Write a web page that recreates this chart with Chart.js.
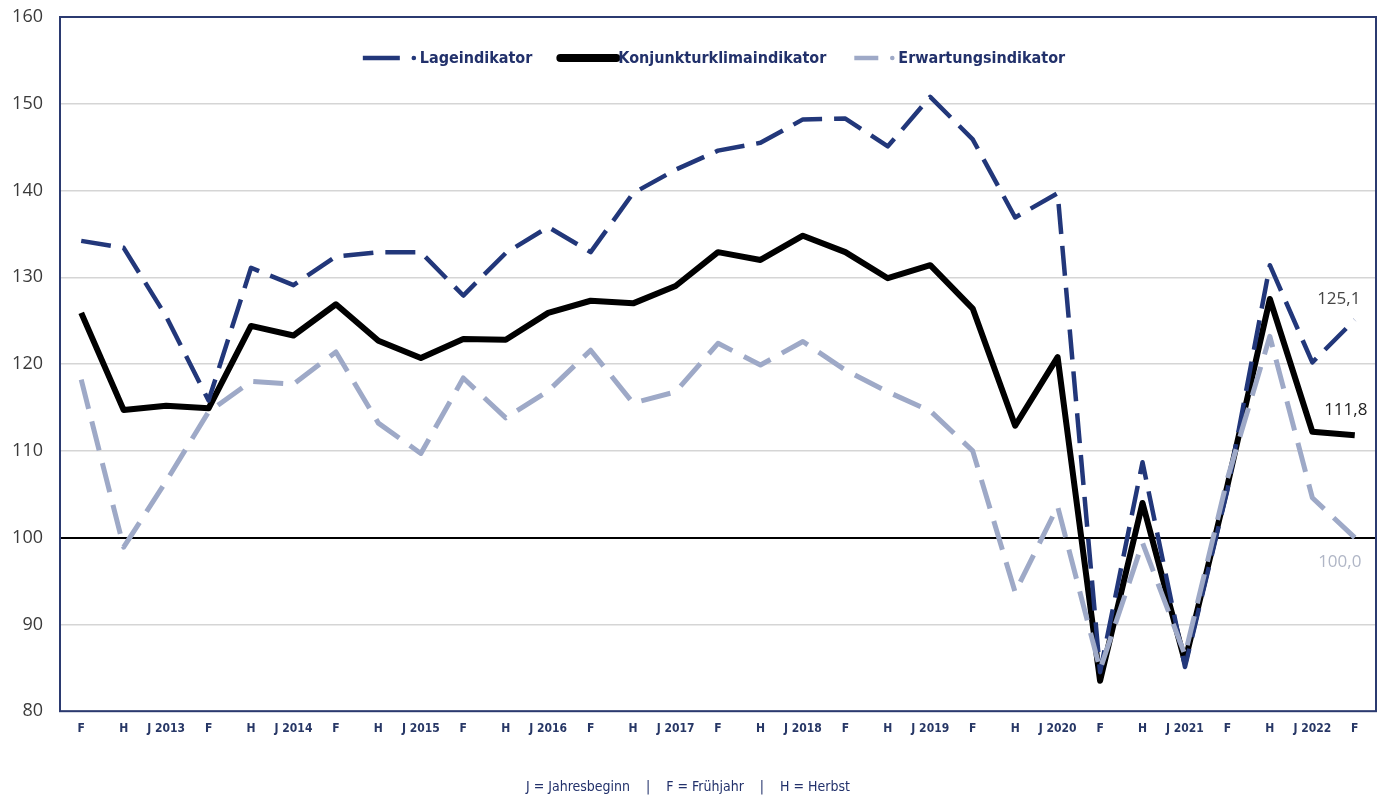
<!DOCTYPE html>
<html lang="de">
<head>
<meta charset="utf-8">
<title>Konjunkturklima</title>
<script src="https://cdn.jsdelivr.net/npm/chart.js@4.4.1/dist/chart.umd.min.js"></script>
<style>
    html, body { margin: 0; padding: 0; background: #fff; }
    .chart-wrap { position: relative; width: 1386px; height: 802px; }
</style>
</head>
<body>
<div class="chart-wrap"><canvas id="klimaChart"></canvas></div>
<script>
const periodLabels = [
    "F", "H", "J 2013", "F", "H", "J 2014", "F", "H", "J 2015", "F", "H", "J 2016",
    "F", "H", "J 2017", "F", "H", "J 2018", "F", "H", "J 2019", "F", "H", "J 2020",
    "F", "H", "J 2021", "F", "H", "J 2022", "F"
];

const lageValues = [
    134.2, 133.4, 125.5, 115.8, 131.1, 129.1, 132.4, 132.9, 132.9, 127.9, 132.8,
    135.8, 132.9, 139.7, 142.4, 144.6, 145.5, 148.2, 148.3, 145.1, 150.8, 145.9,
    136.9, 139.7, 84.5, 108.7, 85.1, 105.5, 131.4, 120.2, 125.1
];

const klimaValues = [
    125.9, 114.7, 115.2, 114.9, 124.4, 123.3, 126.9, 122.7, 120.7, 122.9, 122.8,
    125.9, 127.3, 127.0, 129.0, 132.9, 132.0, 134.8, 132.9, 129.9, 131.4, 126.4,
    112.9, 120.8, 83.5, 104.0, 85.7, 106.0, 127.5, 112.2, 111.8
];

const erwartungValues = [
    118.2, 98.9, 106.5, 114.5, 118.0, 117.7, 121.4, 113.2, 109.7, 118.4, 113.8,
    116.9, 121.6, 115.5, 116.8, 122.4, 119.9, 122.6, 119.3, 116.8, 114.6, 110.0,
    93.7, 103.6, 84.8, 99.4, 86.5, 106.8, 123.2, 104.6, 100.0
];

const seriesNames = ["Lageindikator", "Konjunkturklimaindikator", "Erwartungsindikator"];
const yRange = { min: 80, max: 160, step: 10 };
const baseLine = 100;
const footnote = "J = Jahresbeginn    |    F = Frühjahr    |    H = Herbst";

const navy = "#22377a";
const paleBlue = "#9ea9c7";
const legendInk = "#22316b";
const condensed = "'DejaVu Sans Condensed', 'DejaVu Sans', sans-serif";

// frame round the plot area
const framePlugin = {
    id: "plotFrame",
    afterDatasetsDraw(chart) {
        const { ctx, chartArea } = chart;
        ctx.save();
        ctx.strokeStyle = "#2b3a70";
        ctx.lineWidth = 2;
        ctx.strokeRect(chartArea.left, chartArea.top, chartArea.right - chartArea.left, chartArea.bottom - chartArea.top);
        ctx.restore();
    }
};

// legend sits inside the plot, near the top
const insideLegend = {
    id: "insideLegend",
    afterDatasetsDraw(chart) {
        const { ctx, chartArea } = chart;
        const gap = 28;
        const y = chartArea.top + 41;

        ctx.save();
        ctx.font = "bold 16px " + condensed;
        const items = chart.data.datasets.map((ds) => {
            const textWidth = ctx.measureText(ds.label).width;
            const lead = ds.legendDot ? ds.legendSample + 20 : ds.legendSample + 2;
            return { ds, textWidth, lead, width: lead + textWidth };
        });
        const total = items.reduce((sum, item) => sum + item.width, 0) + gap * (items.length - 1);
        let x = (chartArea.left + chartArea.right) / 2 - total / 2 - 4;

        items.forEach(({ ds, textWidth, lead }) => {
            ctx.beginPath();
            ctx.setLineDash([]);
            ctx.lineCap = ds.legendWeight > 6 ? "round" : "butt";
            ctx.strokeStyle = ds.borderColor;
            ctx.lineWidth = ds.legendWeight;
            ctx.moveTo(x, y);
            ctx.lineTo(x + ds.legendSample, y);
            ctx.stroke();

            if (ds.legendDot) {
                ctx.beginPath();
                ctx.fillStyle = ds.borderColor;
                ctx.arc(x + ds.legendSample + 14, y, 2.3, 0, Math.PI * 2);
                ctx.fill();
            }

            ctx.fillStyle = legendInk;
            ctx.textBaseline = "middle";
            ctx.textAlign = "left";
            ctx.fillText(ds.label, x + lead, y + 1);
            x += lead + textWidth + gap;
        });
        ctx.restore();
    }
};

// latest value written beside the last point of each line
const endLabels = {
    id: "endLabels",
    afterDatasetsDraw(chart) {
        const { ctx } = chart;
        ctx.save();
        ctx.font = "17px 'Open Sans', sans-serif";
        ctx.textAlign = "center";
        ctx.textBaseline = "middle";
        chart.data.datasets.forEach((ds, i) => {
            const meta = chart.getDatasetMeta(i);
            const last = meta.data[meta.data.length - 1];
            const value = ds.data[ds.data.length - 1];
            const text = value.toLocaleString("de-DE", { minimumFractionDigits: 1, maximumFractionDigits: 1 });
            ctx.fillStyle = ds.endLabelColor;
            ctx.fillText(text, last.x + ds.endLabelOffset[0], last.y + ds.endLabelOffset[1]);
        });
        ctx.restore();
    }
};

function lineDataset(label, data, color, width, dash, extra) {
    return Object.assign({
        label,
        data,
        borderColor: color,
        backgroundColor: color,
        borderWidth: width,
        borderDash: dash,
        borderCapStyle: "butt",
        borderJoinStyle: "round",
        pointRadius: 0,
        pointHoverRadius: 0,
        tension: 0,
        fill: false
    }, extra);
}

document.addEventListener("DOMContentLoaded", () => {
    const canvas = document.getElementById("klimaChart");

    new Chart(canvas, {
        type: "line",
        data: {
            labels: periodLabels,
            datasets: [
                lineDataset(seriesNames[0], lageValues, navy, 4.5, [30, 12], {
                    order: 1, legendSample: 37, legendWeight: 4.5, legendDot: true,
                    endLabelColor: "#454545", endLabelOffset: [-16, -21]
                }),
                lineDataset(seriesNames[1], klimaValues, "#000000", 6, [], {
                    order: 2, legendSample: 56, legendWeight: 8, legendDot: false,
                    endLabelColor: "#222222", endLabelOffset: [-9, -25]
                }),
                lineDataset(seriesNames[2], erwartungValues, paleBlue, 5, [30, 13], {
                    order: 0, legendSample: 24, legendWeight: 4.5, legendDot: true,
                    endLabelColor: "#b0b6c6", endLabelOffset: [-15, 25]
                })
            ]
        },
        options: {
            responsive: true,
            maintainAspectRatio: false,
            animation: false,
            layout: {
                padding: { top: 17, right: 10, left: 0, bottom: 0 }
            },
            plugins: {
                legend: { display: false },
                tooltip: { enabled: false },
                subtitle: {
                    display: true,
                    position: "bottom",
                    text: footnote,
                    color: legendInk,
                    font: { family: condensed, size: 14 },
                    padding: { top: 7, bottom: 6 }
                }
            },
            scales: {
                x: {
                    offset: true,
                    grid: { display: false, drawTicks: false },
                    border: { display: false },
                    afterFit(scale) { scale.height = 61; },
                    ticks: {
                        autoSkip: false,
                        maxRotation: 0,
                        padding: 10,
                        color: "#273766",
                        font: { family: condensed, size: 12, weight: "bold" }
                    }
                },
                y: {
                    min: yRange.min,
                    max: yRange.max,
                    afterFit(scale) {
                        scale.width = 60;
                        scale.paddingTop = 0;
                        scale.paddingBottom = 0;
                    },
                    border: { display: false },
                    grid: {
                        drawTicks: false,
                        color: (ctx) => ctx.tick.value === baseLine ? "#000000" : "#d5d5d5",
                        lineWidth: (ctx) => ctx.tick.value === baseLine ? 2 : 1.5
                    },
                    ticks: {
                        stepSize: yRange.step,
                        padding: 17,
                        color: "#3a3a3a",
                        font: { family: "'Open Sans', sans-serif", size: 18 }
                    }
                }
            }
        },
        plugins: [framePlugin, insideLegend, endLabels]
    });
});
</script>
</body>
</html>
